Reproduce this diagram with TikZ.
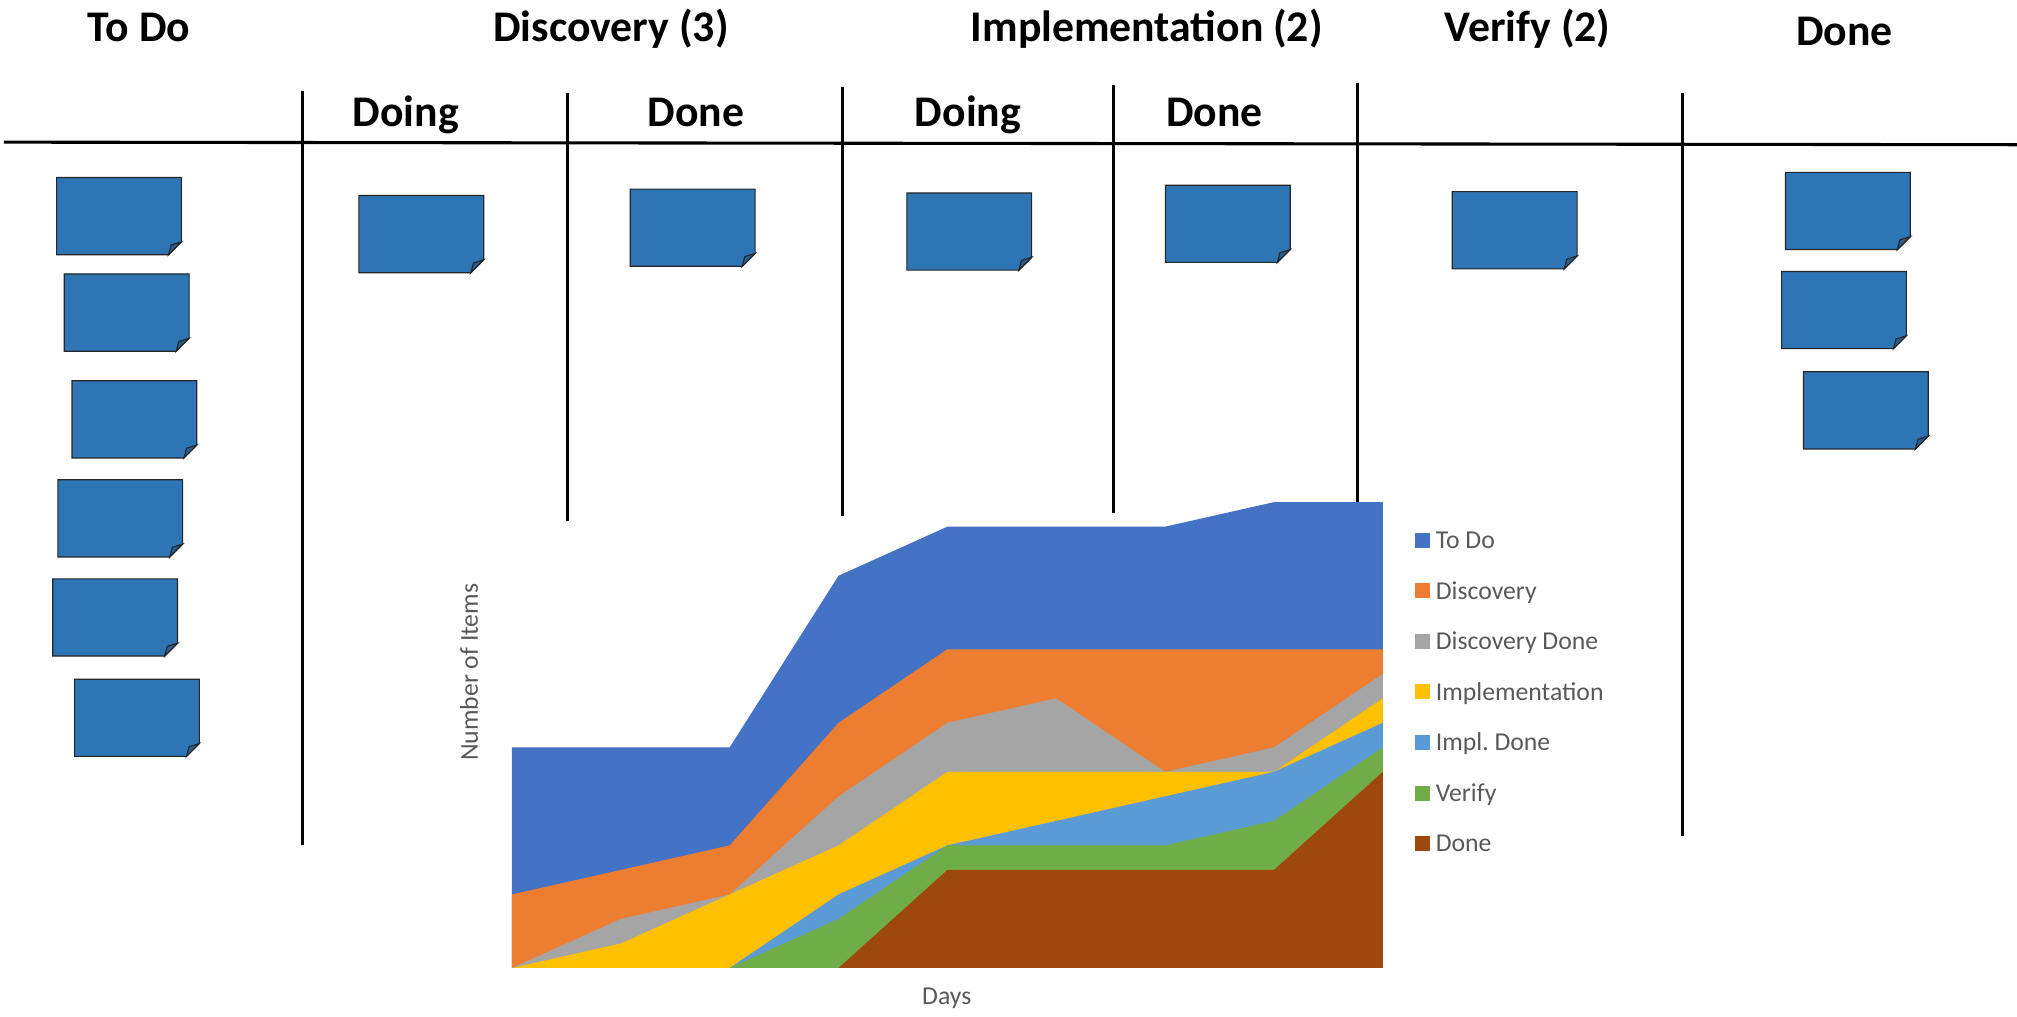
\documentclass[tikz,border=0pt]{standalone}
\usepackage{fontspec}
\setmainfont{Carlito}
\frenchspacing
\definecolor{cTodo}{HTML}{4472C4}
\definecolor{cDisc}{HTML}{ED7D31}
\definecolor{cDiscDone}{HTML}{A5A5A5}
\definecolor{cImpl}{HTML}{FFC000}
\definecolor{cImplDone}{HTML}{5B9BD5}
\definecolor{cVerify}{HTML}{70AD47}
\definecolor{cDone}{HTML}{9E480E}
\definecolor{noteblue}{HTML}{2E75B6}
\definecolor{notefold}{HTML}{255F94}
\definecolor{axisgray}{HTML}{595959}
\begin{document}
\begin{tikzpicture}[x=1pt,y=-1pt,
  coltitle/.style={font=\fontsize{34}{40}\selectfont\bfseries, anchor=base, inner sep=0pt},
  lane/.style={line width=2.3pt, black},
  legtext/.style={font=\fontsize{20}{24}\selectfont, text=axisgray, anchor=base west, inner sep=0pt},
  axtitle/.style={font=\fontsize{20}{24}\selectfont, text=axisgray, inner sep=0pt},
  legsq/.style={minimum size=11.7pt, inner sep=0pt, draw=none},
  pics/sticky/.style={code={
    \fill[noteblue] (0,0) -- (97,0) -- (97,50) -- (87,60) -- (0,60) -- cycle;
    \draw[black!85, line width=0.9pt, line join=miter] (0,0) -- (97,0) -- (97,50) -- (87,60) -- (0,60) -- cycle;
    \filldraw[fill=notefold, draw=black!85, line width=0.9pt] (87,60) -- (97,50) -- (89,52.5) -- cycle;
  }}
]
\useasboundingbox (0,0) rectangle (1568,790);

% column titles
\node[coltitle] (tTodo) at (108,32) {To Do};
\node[coltitle] (tDisc) at (475,32) {Discovery (3)};
\node[coltitle] (tImpl) at (891.5,32) {Implementation (2)};
\node[coltitle] (tVer)  at (1187.5,32) {Verify (2)};
\node[coltitle] (tDone) at (1434,35) {Done};
% sub titles
\node[coltitle] (sDoing1) at (315.5,98) {Doing};
\node[coltitle] (sDone1)  at (541,98) {Done};
\node[coltitle] (sDoing2) at (752.5,98) {Doing};
\node[coltitle] (sDone2)  at (944,98) {Done};

% board lines
\coordinate (hL) at (3,110.5);
\coordinate (hR) at (1568,112.5);
\draw[line width=2.4pt] (hL) -- (hR);
\coordinate (v1a) at (235.5,71);  \coordinate (v1b) at (235.5,657);
\coordinate (v2a) at (441,72);    \coordinate (v2b) at (441,405);
\coordinate (v3a) at (655,68);    \coordinate (v3b) at (655,401);
\coordinate (v4a) at (865.5,66);  \coordinate (v4b) at (865.5,398.5);
\coordinate (v5a) at (1055,64.5); \coordinate (v5b) at (1055,391);
\coordinate (v6a) at (1308,72);   \coordinate (v6b) at (1308,650);
\foreach \i in {1,...,6} { \draw[lane] (v\i a) -- (v\i b); }

% sticky notes
\pic (n1) at (44,138) {sticky};
\pic (n2) at (50,213) {sticky};
\pic (n3) at (56,296) {sticky};
\pic (n4) at (45,373) {sticky};
\pic (n5) at (41,450) {sticky};
\pic (n6) at (58,528) {sticky};
\pic (n7) at (279,152) {sticky};
\pic (n8) at (490,147) {sticky};
\pic (n9) at (705,150) {sticky};
\pic (n10) at (906,144) {sticky};
\pic (n11) at (1129,149) {sticky};
\pic (n12) at (1388,134) {sticky};
\pic (n13) at (1385,211) {sticky};
\pic (n14) at (1402,289) {sticky};

% stacked area chart
\begin{scope}[shift={(398,752.5)}, x=84.625pt, y=19.06pt]
  \fill[cTodo] (0,0) -- (0,9) -- (1,9) -- (2,9) -- (3,16) -- (4,18) -- (5,18) -- (6,18) -- (7,19) -- (8,19) -- (8,0) -- cycle;
  \fill[cDisc] (0,0) -- (0,3) -- (1,4) -- (2,5) -- (3,10) -- (4,13) -- (5,13) -- (6,13) -- (7,13) -- (8,13) -- (8,0) -- cycle;
  \fill[cDiscDone] (0,0) -- (1,2) -- (2,3) -- (3,7) -- (4,10) -- (5,11) -- (6,8) -- (7,9) -- (8,12) -- (8,0) -- cycle;
  \fill[cImpl] (0,0) -- (1,1) -- (2,3) -- (3,5) -- (4,8) -- (5,8) -- (6,8) -- (7,8) -- (8,11) -- (8,0) -- cycle;
  \fill[cImplDone] (2,0) -- (3,3) -- (4,5) -- (5,6) -- (6,7) -- (7,8) -- (8,10) -- (8,0) -- cycle;
  \fill[cVerify] (2,0) -- (3,2) -- (4,5) -- (5,5) -- (6,5) -- (7,6) -- (8,9) -- (8,0) -- cycle;
  \fill[cDone] (3,0) -- (4,4) -- (5,4) -- (6,4) -- (7,4) -- (8,8) -- (8,0) -- cycle;
\end{scope}

% axis titles
\node[axtitle, rotate=90] (yTitle) at (364.6,522.6) {Number of Items};
\node[axtitle, anchor=base] (xTitle) at (736,781) {Days};

% legend
\node[legsq, fill=cTodo]     (ls1) at (1105.5,420) {};
\node[legsq, fill=cDisc]     (ls2) at (1105.5,459.3) {};
\node[legsq, fill=cDiscDone] (ls3) at (1105.5,498.6) {};
\node[legsq, fill=cImpl]     (ls4) at (1105.5,537.9) {};
\node[legsq, fill=cImplDone] (ls5) at (1105.5,577.2) {};
\node[legsq, fill=cVerify]   (ls6) at (1105.5,616.5) {};
\node[legsq, fill=cDone]     (ls7) at (1105.5,655.8) {};
\node[legtext] (lt1) at (1116,426.4) {To Do};
\node[legtext] (lt2) at (1116,465.7) {Discovery};
\node[legtext] (lt3) at (1116,505.0) {Discovery Done};
\node[legtext] (lt4) at (1116,544.3) {Implementation};
\node[legtext] (lt5) at (1116,583.6) {Impl.\ Done};
\node[legtext] (lt6) at (1116,622.9) {Verify};
\node[legtext] (lt7) at (1116,662.2) {Done};
\end{tikzpicture}
\end{document}
